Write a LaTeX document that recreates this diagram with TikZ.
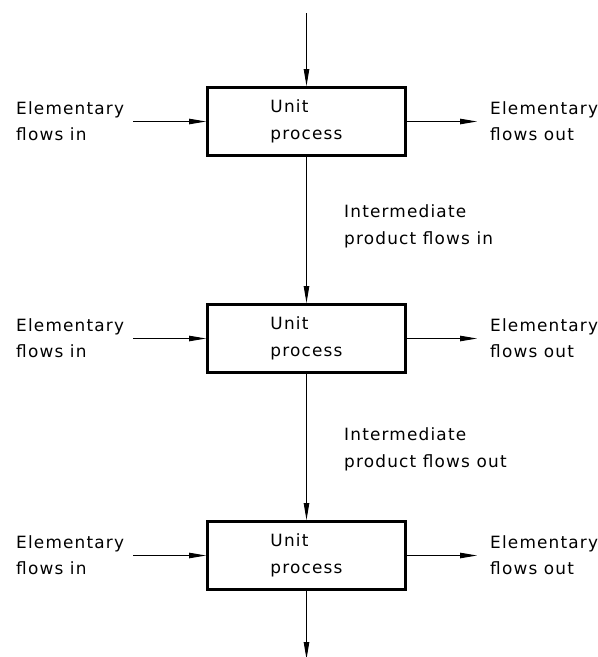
\documentclass[tikz,border=0pt]{standalone}
\usepackage{fontspec}
\setmainfont{DejaVu Sans}[LetterSpace=7]
\usetikzlibrary{arrows.meta}
\begin{document}
\begin{tikzpicture}[x=1pt,y=-1pt,
  txt/.style={font=\fontsize{16.9}{26.5}\selectfont},
  proc/.style={draw, line width=3pt, minimum width=198pt, minimum height=68pt,
    inner sep=0pt, align=left, txt},
  lbl/.style={inner sep=0pt, anchor=north west, align=left, txt},
  flow/.style={line width=0.9pt, -{Triangle[length=17pt,width=5.5pt]}}]
\path[use as bounding box] (0,0) rectangle (598,657);

\node[proc] (p1) at (306.5,121.5) {Unit\\process};
\node[proc] (p2) at (306.5,338.5) {Unit\\process};
\node[proc] (p3) at (306.5,555.5) {Unit\\process};

\coordinate (top) at (306.5,13);
\coordinate (bot) at (306.5,659);
\draw[flow] (top) -- (p1);
\draw[flow] (p1) -- (p2);
\draw[flow] (p2) -- (p3);
\draw[flow] (p3) -- (bot);

\foreach \i/\c in {1/121.5,2/338.5,3/555.5}{
  \coordinate (in\i) at (133,\c);
  \coordinate (out\i) at (477,\c);
  \draw[flow] (in\i) -- (p\i);
  \draw[flow] (p\i) -- (out\i);
  \node[lbl] (li\i) at (16,\c-20.5) {Elementary\\flows in};
  \node[lbl] (lo\i) at (490,\c-20.5) {Elementary\\flows out};
}

\node[lbl] (im1) at (344,204.5) {Intermediate\\product flows in};
\node[lbl] (im2) at (344,427.5) {Intermediate\\product flows out};
\end{tikzpicture}
\end{document}
